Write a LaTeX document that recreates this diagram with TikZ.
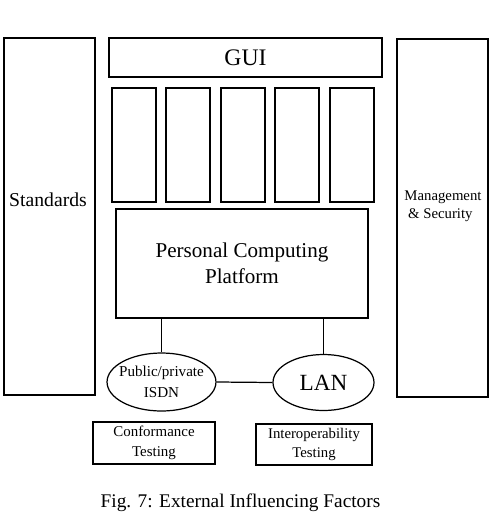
\documentclass[tikz,border=0pt]{standalone}
\usepackage{fontspec}
\setmainfont{Liberation Serif}
\usetikzlibrary{positioning,shapes.geometric}

\begin{document}
\begin{tikzpicture}[x=0.02cm,y=-0.02cm,line width=0.7pt,
    every node/.style={inner sep=0pt},
    blk/.style={draw,minimum width=#1},
    oval/.style={draw,ellipse,font=\fontsize{8.6}{12}\selectfont,align=center}]
  \useasboundingbox (0,0) rectangle (496,528);
  % side columns
  \node[blk=1.82cm,minimum height=7.14cm] (std) at (49.5,216.5) {};
  \node[font=\fontsize{11.2}{13}\selectfont] (stdtxt) at (48,200) {Standards};
  \node[blk=1.82cm,minimum height=7.16cm] (mgmt) at (442.5,218) {};
  \node[font=\fontsize{8.4}{10}\selectfont,align=left] (mgmttxt) at (443,206)
    {Management\\ \ \& Security};
  % top part
  \node[blk=5.46cm,minimum height=0.78cm,font=\fontsize{13.5}{16}\selectfont] (gui)
    at (245.5,57.5) {GUI};
  \foreach \i/\cx in {1/134,2/188,3/243,4/297,5/352}
    \node[blk=0.88cm,minimum height=2.28cm] (app\i) at (\cx,145) {};
  \node[blk=5.04cm,minimum height=2.18cm,align=center,
    font=\fontsize{12}{15}\selectfont] (pcp) at (242,263.5)
    {Personal Computing\\ Platform};
  % networks
  \node[oval,inner xsep=-2.2pt,minimum width=2.06cm,minimum height=1.16cm] (isdn)
    at (161.5,382) {Public/private\\ ISDN};
  \node[oval,minimum width=2.02cm,minimum height=1.12cm,
    font=\fontsize{13.2}{15}\selectfont] (lan) at (323.5,382.5) {LAN};
  \draw (pcp.south -| isdn.north) -- (isdn.north);
  \draw (pcp.south -| lan.north) -- (lan.north);
  \draw (isdn.east) -- (lan.west);
  % testing
  \node[blk=2.44cm,minimum height=0.84cm,align=center,
    font=\fontsize{8.5}{11}\selectfont] (conf) at (154,443)
    {Conformance\\ Testing};
  \node[blk=2.32cm,minimum height=0.82cm,align=center,
    font=\fontsize{8.4}{11}\selectfont] (interop) at (314,444.5)
    {Interoperability\\ Testing};
  \node[font=\fontsize{11}{13}\selectfont] (cap) at (240.5,503)
    {Fig. 7: External Influencing Factors};
\end{tikzpicture}
\end{document}
